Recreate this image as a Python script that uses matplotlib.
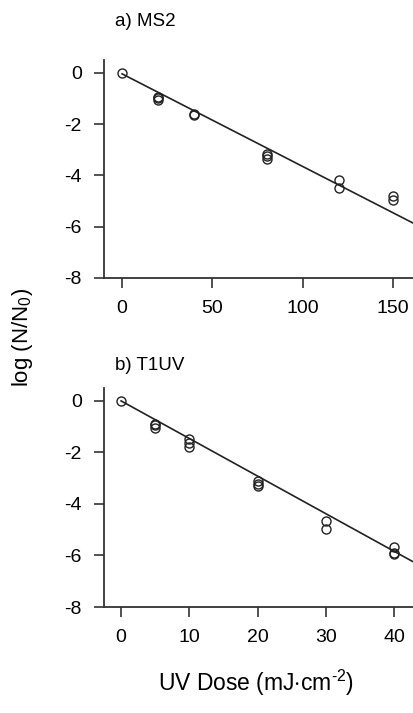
import numpy as np
import matplotlib.pyplot as plt

plt.rcParams['font.family'] = ['Liberation Sans', 'DejaVu Sans']
plt.rcParams['axes.unicode_minus'] = False
plt.rcParams['mathtext.fontset'] = 'custom'
plt.rcParams['mathtext.rm'] = 'Liberation Sans'

# a) MS2
dose_ms2 = [0, 20, 20, 20, 40, 40, 80, 80, 80, 120, 120, 150, 150]
log_ms2 = [0, -0.95, -1.0, -1.05, -1.6, -1.66, -3.15, -3.25, -3.35, -4.19, -4.5, -4.8, -4.97]
fit_ms2_x = [0, 170]
fit_ms2_y = [-0.04, -6.18]

# b) T1UV
dose_t1 = [0, 5, 5, 5, 10, 10, 10, 20, 20, 20, 30, 30, 40, 40, 40]
log_t1 = [0, -0.88, -0.95, -1.05, -1.49, -1.65, -1.8, -3.12, -3.22, -3.3, -4.66, -4.99, -5.69, -5.9, -5.95]
fit_t1_x = [0, 45]
fit_t1_y = [0.0, -6.57]

ms2_ticks = [0, 50, 100, 150]
t1_ticks = [0, 10, 20, 30, 40]
y_ticks = [0, -2, -4, -6, -8]

fig = plt.figure(figsize=(4.14, 7.13), dpi=100)
ax1 = fig.add_axes([104/414, 1-278/713, 310/414, 218/713])
ax2 = fig.add_axes([104/414, 1-607/713, 310/414, 219/713])

panels = [
    (ax1, dose_ms2, log_ms2, fit_ms2_x, fit_ms2_y, ms2_ticks, (-10, 161.6), 'a) MS2'),
    (ax2, dose_t1, log_t1, fit_t1_x, fit_t1_y, t1_ticks, (-2.5, 42.9), 'b) T1UV'),
]

for ax, x, y, fx, fy, xt, xl, title in panels:
    ax.plot(fx, fy, c='#222222', lw=1.2, zorder=2)
    ax.plot(x, y, 'o', mfc='none', mec='#222222', mew=1.0, ms=6.5, zorder=3)
    ax.set_xlim(*xl)
    ax.set_ylim(-8, 0.5)
    ax.set_xticks(xt)
    ax.set_yticks(y_ticks)
    ax.spines['top'].set_visible(False)
    ax.spines['right'].set_visible(False)
    for s in ['left', 'bottom']:
        ax.spines[s].set_color('#333333')
        ax.spines[s].set_linewidth(1.3)
    ax.tick_params(direction='out', length=7, width=1.2, color='#333333',
                   labelsize=14, pad=9)
    ax.set_facecolor('none')

fig.text(115/414, 1-21/713, 'a) MS2', fontsize=13.5, va='center', ha='left')
fig.text(115/414, 1-365/713, 'b) T1UV', fontsize=13.5, va='center', ha='left')

fig.text(23/414, 1-337/713, r'log (N/N$_\mathrm{0}$)', fontsize=16, rotation=90,
         va='center', ha='center')
fig.text(256/414, 1-683/713, r'UV Dose (mJ$\cdot$cm$^{\text{-2}}$)', fontsize=16.5,
         va='center', ha='center')

plt.savefig('out.png', dpi=100)
